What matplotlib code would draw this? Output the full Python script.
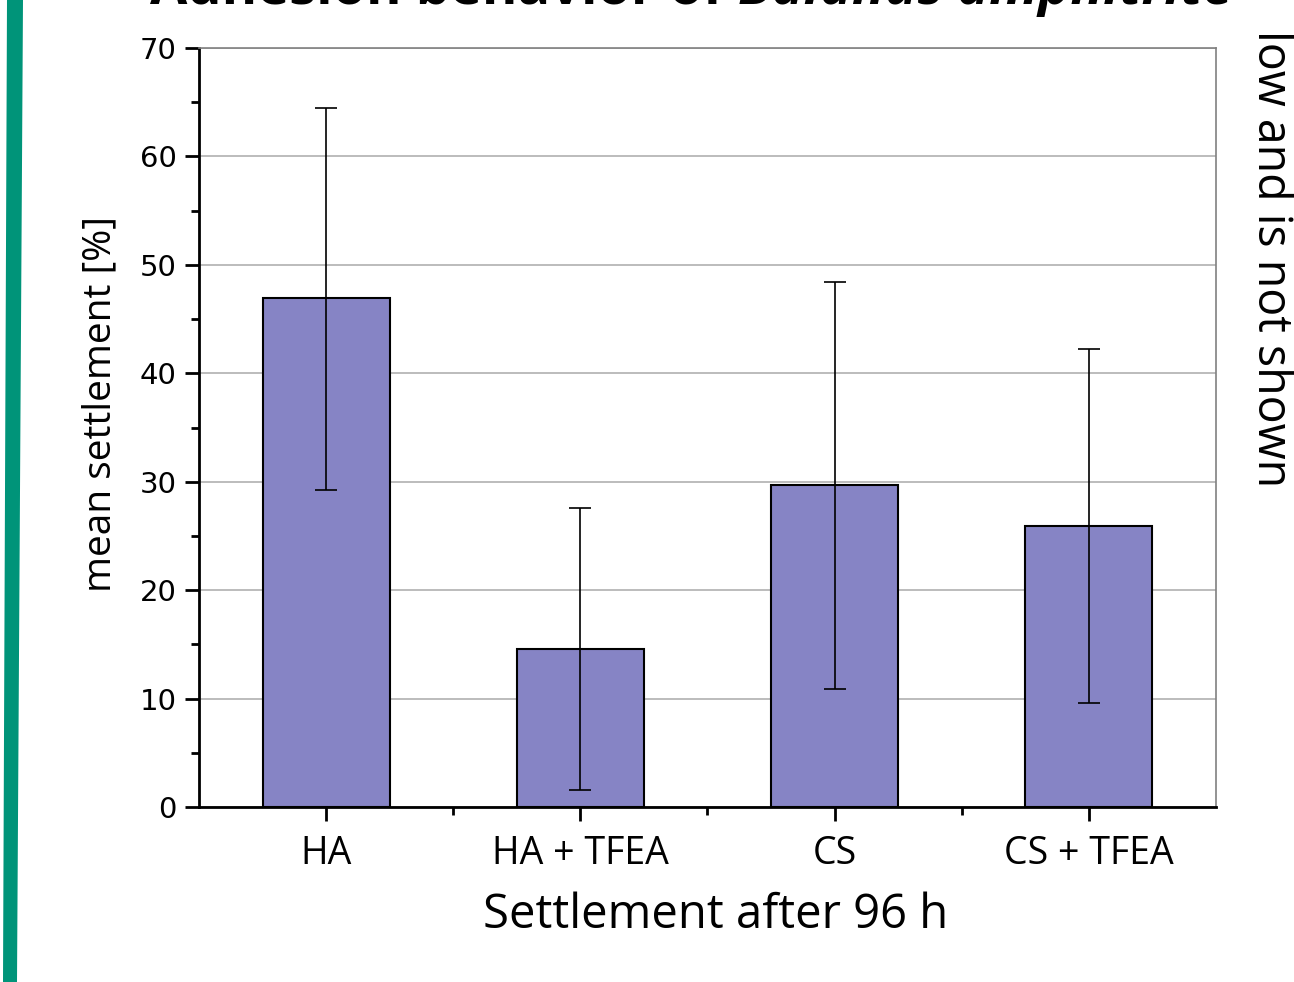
import matplotlib
matplotlib.use('Agg')
import matplotlib.pyplot as plt
from matplotlib.patches import Polygon
from matplotlib.ticker import MultipleLocator, FixedLocator

categories = ['HA', 'HA + TFEA', 'CS', 'CS + TFEA']
mean_settlement = [46.9, 14.6, 29.7, 25.9]
err_upper = [17.6, 13.0, 18.7, 16.3]
err_lower = [17.7, 13.0, 18.8, 16.3]

bar_color = '#8684c5'
green = '#009479'

plt.rcParams['font.family'] = ['Open Sans', 'DejaVu Sans']

fig = plt.figure(figsize=(12.94, 9.82), dpi=100)
ax = fig.add_axes([0.1538, 0.1782, 0.9397 - 0.1538, 0.9511 - 0.1782])

x = list(range(len(categories)))
ax.bar(x, mean_settlement, width=0.5, color=bar_color, edgecolor='black',
       linewidth=1.5, zorder=3)
ax.errorbar(x, mean_settlement, yerr=[err_lower, err_upper], fmt='none',
            ecolor='black', elinewidth=1.2, capsize=8, capthick=1.2, zorder=4)

ax.set_xlim(-0.5, 3.5)
ax.set_ylim(0, 70)
ax.yaxis.set_major_locator(MultipleLocator(10))
ax.yaxis.set_minor_locator(MultipleLocator(5))
ax.set_xticks(x)
ax.set_xticklabels(categories, fontsize=27)
ax.xaxis.set_minor_locator(FixedLocator([0.5, 1.5, 2.5]))
ax.grid(axis='y', color='#b0b0b0', linewidth=1.2, zorder=0)
ax.set_axisbelow(True)

ax.tick_params(axis='y', which='major', length=10, width=2, labelsize=21,
               pad=6, direction='out')
ax.tick_params(axis='y', which='minor', length=6, width=2, direction='out')
ax.tick_params(axis='x', which='major', length=10, width=2, direction='out', pad=10)
ax.tick_params(axis='x', which='minor', length=6, width=2, direction='out')
for lbl in ax.get_yticklabels():
    lbl.set_family('DejaVu Sans')

ax.spines['left'].set_linewidth(2)
ax.spines['bottom'].set_linewidth(2)
ax.spines['top'].set_color('#808080')
ax.spines['right'].set_color('#808080')
ax.spines['top'].set_linewidth(1.2)
ax.spines['right'].set_linewidth(1.2)

ax.set_ylabel('mean settlement [%]', fontsize=28, va='center')
ax.yaxis.set_label_coords(-0.097, 0.531)
ax.set_xlabel('Settlement after 96 h', fontsize=34, va='center')
ax.xaxis.set_label_coords(0.508, -0.1423)

# left accent bar of the slide
fig.patches.append(Polygon([(7 / 1294, 1), (23 / 1294, 1), (17 / 1294, 0), (3 / 1294, 0)],
                           closed=True, transform=fig.transFigure,
                           facecolor=green, edgecolor='none'))

# cut-off slide title and side note
t1 = fig.text(150 / 1294, 1 - 4 / 982, 'Adhesion behavior of ', fontsize=39,
              fontweight='bold', ha='left', va='baseline')
fig.canvas.draw()
bb = t1.get_window_extent()
fig.text(bb.x1 / fig.bbox.width, 1 - 4 / 982, 'Balanus amphitrite', fontsize=39,
         fontweight='bold', style='italic', ha='left', va='baseline')
fig.text(1271 / 1294, 1 - 259 / 982, 'low and is not shown', fontsize=33.5,
         rotation=-90, ha='center', va='center')

fig.savefig('out.png', dpi=100)
